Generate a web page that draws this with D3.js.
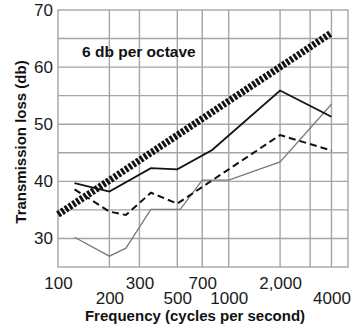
<!DOCTYPE html>
<html lang="en">

<head>
    <meta charset="UTF-8">
    <title>Transmission loss</title>
    <style>
        body {
            margin: 0;
            background-color: #fff;
        }

        svg {
            display: block;
            font-family: "Liberation Sans", Arial, sans-serif;
        }

        .axis text {
            font-size: 17px;
            fill: #1a1a1a;
        }

        .axis .domain {
            display: none;
        }
    </style>
</head>

<script src="https://cdn.jsdelivr.net/npm/d3@7"></script>

<body>
    <div id="graphic"></div>
    <script>
        // values
        var solidFreq = [125, 200, 350, 500, 800, 2000, 4000];
        var solidLoss = [39.7, 38.2, 42.3, 42.1, 45.5, 55.9, 51.3];

        var dashedFreq = [125, 200, 250, 350, 500, 2000, 4000];
        var dashedLoss = [38.6, 34.7, 34.1, 38.0, 36.1, 48.1, 45.4];

        var grayFreq = [125, 200, 250, 350, 520, 700, 1000, 2000, 4000];
        var grayLoss = [30.2, 26.9, 28.3, 35.1, 35.1, 40.2, 40.2, 43.4, 53.5];

        var octaveFreq = [100, 4000];
        var octaveLoss = [34.2, 66.0];

        var xTicksTop = [100, 300, 700, 2000];
        var xTicksBottom = [200, 500, 1000, 4000];
        var xGrid = [200, 300, 500, 700, 1000, 2000, 3000, 4000];
        var yTicks = [30, 40, 50, 60, 70];
        var yGrid = [30, 35, 40, 45, 50, 55, 60, 65];

        var width = 363;
        var height = 330;

        var x = d3.scaleLog().domain([100, 5000]).range([58, 348]);
        var y = d3.scaleLinear().domain([25, 70]).range([267, 10]);

        var svg = d3.select('#graphic')
            .append('svg')
            .attr('width', width)
            .attr('height', height);

        // grid
        var grid = svg.append('g')
            .attr('stroke', '#a5a5a5')
            .attr('stroke-width', 1.4);

        grid.selectAll('.vgrid')
            .data(xGrid)
            .join('line')
            .attr('x1', function (d) { return x(d) })
            .attr('x2', function (d) { return x(d) })
            .attr('y1', y(25))
            .attr('y2', y(70));

        grid.selectAll('.hgrid')
            .data(yGrid)
            .join('line')
            .attr('x1', x(100))
            .attr('x2', x(5000))
            .attr('y1', function (d) { return y(d) })
            .attr('y2', function (d) { return y(d) });

        grid.append('rect')
            .attr('x', x(100))
            .attr('y', y(70))
            .attr('width', x(5000) - x(100))
            .attr('height', y(25) - y(70))
            .attr('fill', 'none');

        // axes
        function fmt(d) { return d === 2000 ? '2,000' : String(d) }

        svg.append('g')
            .attr('class', 'axis')
            .attr('transform', 'translate(0,' + y(25) + ')')
            .call(d3.axisBottom(x).tickValues(xTicksTop).tickFormat(fmt).tickSize(0).tickPadding(10));

        svg.append('g')
            .attr('class', 'axis')
            .attr('transform', 'translate(0,' + y(25) + ')')
            .call(d3.axisBottom(x).tickValues(xTicksBottom).tickFormat(fmt).tickSize(0).tickPadding(25));

        svg.append('g')
            .attr('class', 'axis')
            .attr('transform', 'translate(' + x(100) + ',0)')
            .call(d3.axisLeft(y).tickValues(yTicks).tickSize(0).tickPadding(5));

        svg.append('text')
            .attr('x', 195)
            .attr('y', 321)
            .attr('text-anchor', 'middle')
            .attr('font-weight', 'bold')
            .attr('font-size', 15)
            .attr('fill', '#111')
            .text('Frequency (cycles per second)');

        svg.append('text')
            .attr('transform', 'translate(26,142) rotate(-90)')
            .attr('text-anchor', 'middle')
            .attr('font-weight', 'bold')
            .attr('font-size', 15)
            .attr('fill', '#111')
            .text('Transmission loss (db)');

        svg.append('text')
            .attr('x', 82)
            .attr('y', 57)
            .attr('font-weight', 'bold')
            .attr('font-size', 15.5)
            .attr('fill', '#111')
            .text('6 db per octave');

        // lines
        var line = d3.line()
            .x(function (d) { return x(d[0]) })
            .y(function (d) { return y(d[1]) });

        function pairs(f, v) { return f.map(function (d, i) { return [d, v[i]] }) }

        svg.append('path')
            .datum(pairs(grayFreq, grayLoss))
            .attr('d', line)
            .attr('fill', 'none')
            .attr('stroke', '#7a7a7a')
            .attr('stroke-width', 1.3);

        svg.append('path')
            .datum(pairs(dashedFreq, dashedLoss))
            .attr('d', line)
            .attr('fill', 'none')
            .attr('stroke', '#111')
            .attr('stroke-width', 2)
            .attr('stroke-dasharray', '7,4');

        svg.append('path')
            .datum(pairs(solidFreq, solidLoss))
            .attr('d', line)
            .attr('fill', 'none')
            .attr('stroke', '#111')
            .attr('stroke-width', 1.8);

        svg.append('path')
            .datum(pairs(octaveFreq, octaveLoss))
            .attr('d', line)
            .attr('fill', 'none')
            .attr('stroke', '#111')
            .attr('stroke-width', 7)
            .attr('stroke-dasharray', '2.8,1.7');
    </script>
</body>

</html>
